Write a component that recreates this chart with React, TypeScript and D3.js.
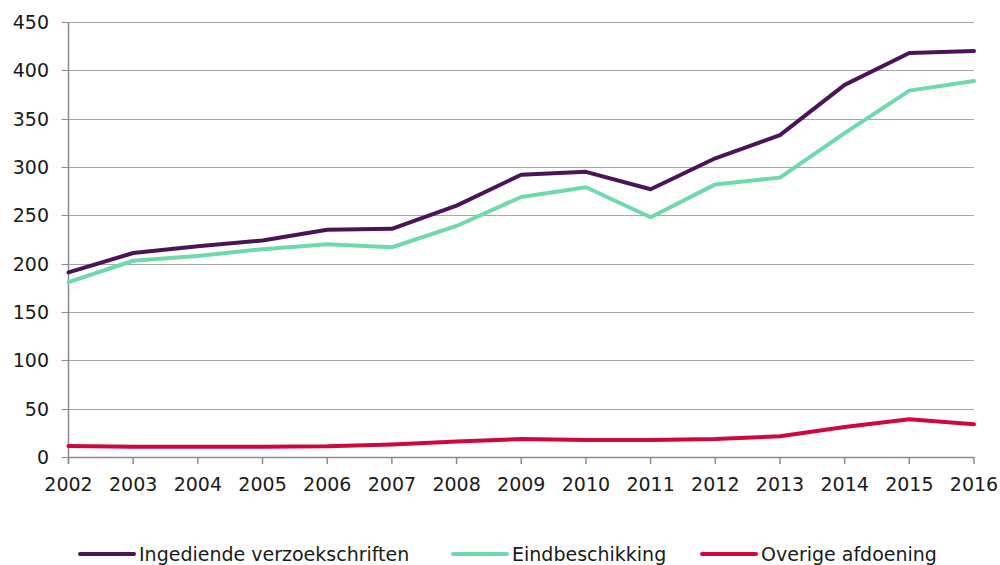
import { scaleLinear, scalePoint, line } from 'd3'

const YEARS = [2002, 2003, 2004, 2005, 2006, 2007, 2008, 2009, 2010, 2011, 2012, 2013, 2014, 2015, 2016]
const INGEDIEND = [191, 211, 218, 224, 235, 236, 260, 292, 295, 277, 309, 333, 385, 418, 420]
const EINDBESCHIKKING = [181, 203, 208, 215, 220, 217, 239, 269, 279, 248, 282, 289, 335, 379, 389]
const OVERIG = [11.5, 10.5, 10.5, 10.5, 11, 13, 16, 18.5, 17.5, 17.5, 18.5, 21.5, 31, 39, 34]
const Y_TICKS = [0, 50, 100, 150, 200, 250, 300, 350, 400, 450]

const SERIES = [
  { name: 'Ingediende verzoekschriften', values: INGEDIEND, color: '#4b1459' },
  { name: 'Eindbeschikking', values: EINDBESCHIKKING, color: '#6fd9ad' },
  { name: 'Overige afdoening', values: OVERIG, color: '#d0073f' },
]

export default function App(): JSX.Element {
  const width = 1000
  const height = 565
  const left = 68.5
  const right = 974
  const top = 22
  const bottom = 457
  const font = "'DejaVu Sans', Verdana, sans-serif"

  const xScale = scalePoint<number>().domain(YEARS).range([left, right])
  const yScale = scaleLinear().domain([0, 450]).range([bottom, top])

  const path = line<number>()
    .x((_, i) => xScale(YEARS[i])!)
    .y((d) => yScale(d))

  // legend item start positions (line start)
  const legendX = [80, 453, 702]
  const legendY = 554

  return (
    <svg
      width={width}
      height={height}
      style={{ position: 'absolute', left: 0, top: 0, background: '#fff' }}
      fontFamily={font}
    >
      {/* grid + y ticks */}
      {Y_TICKS.map((t) => (
        <g key={t} transform={`translate(0, ${Math.round(yScale(t)) + 0.5})`}>
          {t > 0 && <line x1={left} x2={right} stroke='#a6a6a6' strokeWidth={1} />}
          <line x1={left - 7} x2={left} stroke='#8c8c8c' strokeWidth={1} />
          <text x={49} dy='0.36em' textAnchor='end' fontSize={19} fill='#1a1a1a'>
            {t}
          </text>
        </g>
      ))}

      {/* axes */}
      <line x1={left} x2={left} y1={top} y2={bottom + 7} stroke='#8c8c8c' strokeWidth={1.5} />
      <line x1={left} x2={right} y1={bottom + 0.5} y2={bottom + 0.5} stroke='#8c8c8c' strokeWidth={1.5} />
      {YEARS.map((yr) => (
        <g key={yr} transform={`translate(${xScale(yr)}, 0)`}>
          <line y1={bottom} y2={bottom + 7} stroke='#8c8c8c' strokeWidth={1.5} />
          <text y={491} textAnchor='middle' fontSize={19} fill='#1a1a1a'>
            {yr}
          </text>
        </g>
      ))}

      {/* lines */}
      {SERIES.map((s) => (
        <path
          key={s.name}
          d={path(s.values)!}
          fill='none'
          stroke={s.color}
          strokeWidth={4}
          strokeLinejoin='round'
          strokeLinecap='round'
        />
      ))}

      {/* legend */}
      {SERIES.map((s, i) => (
        <g key={s.name} transform={`translate(${legendX[i]}, ${legendY})`}>
          <line x1={0} x2={54} stroke={s.color} strokeWidth={4} strokeLinecap='round' />
          <text x={59} y={7} fontSize={19} fill='#1a1a1a'>
            {s.name}
          </text>
        </g>
      ))}
    </svg>
  )
}
